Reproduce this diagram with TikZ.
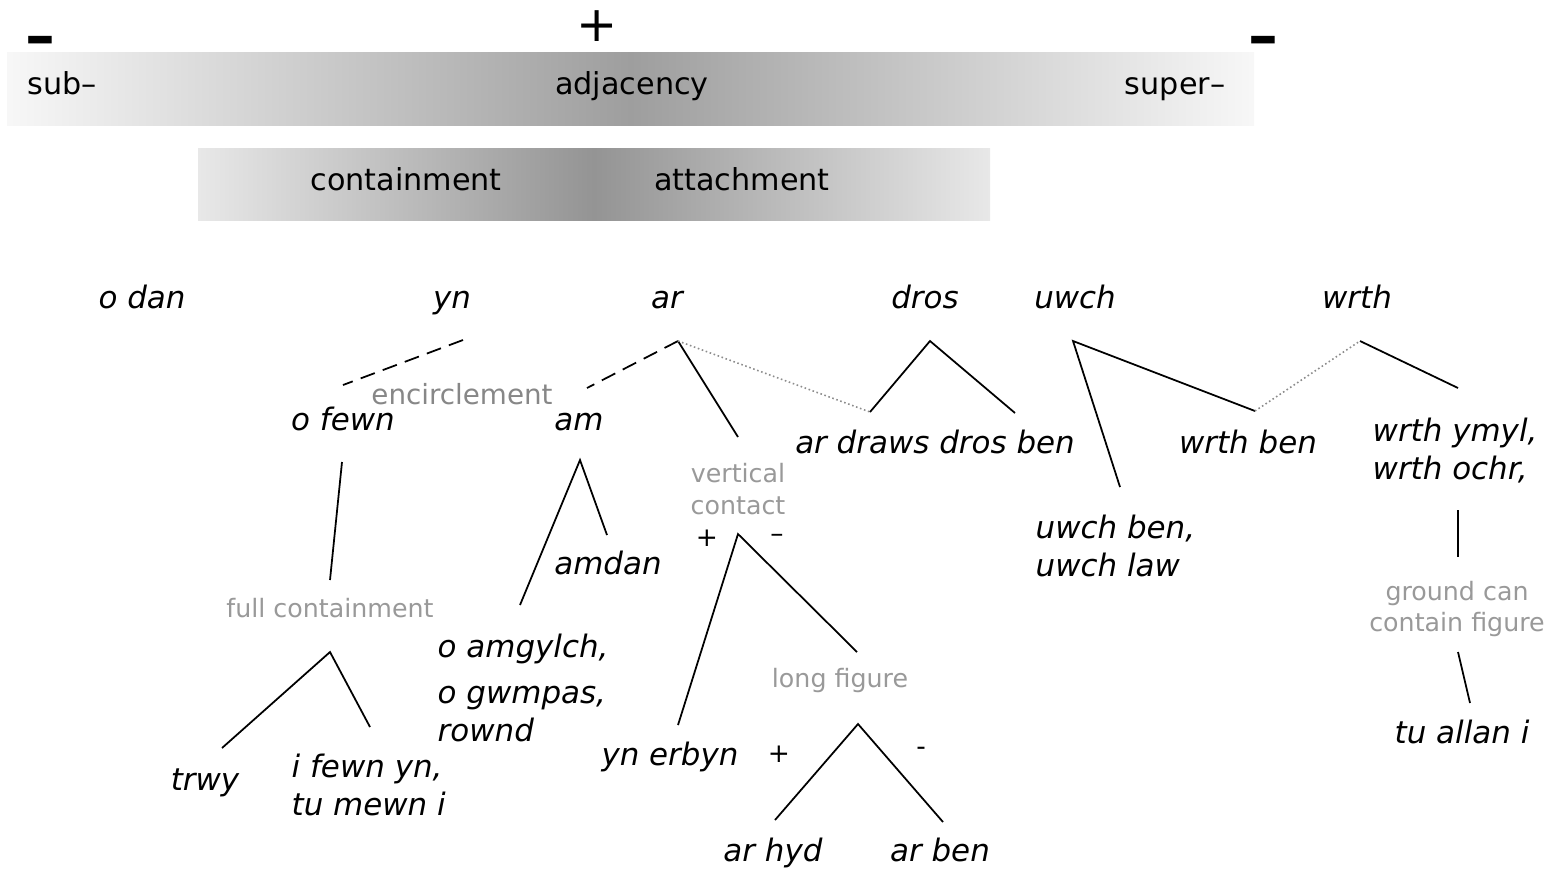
\documentclass[tikz,border=0pt]{standalone}
\usepackage{fontspec}
\setmainfont{DejaVu Sans}
\usepackage{tikz}
\tikzset{welsh/.style={font=\fontsize{8.8}{10.8}\selectfont\itshape, inner sep=0pt, text height=1.45ex, text depth=0.4ex}}
\tikzset{welshpair/.style={font=\fontsize{8.8}{10.8}\selectfont\itshape, inner sep=0pt, align=left}}
\tikzset{gloss/.style={font=\fontsize{7.2}{9}\selectfont, text=black!40, inner sep=0pt, align=center}}
\tikzset{polar/.style={font=\fontsize{7.5}{9}\selectfont, inner sep=0pt}}
\tikzset{scalelabel/.style={font=\fontsize{8.6}{10}\selectfont, inner sep=0pt, text height=1.45ex, text depth=0.4ex}}
\tikzset{branch/.style={line width=0.5pt}}
\tikzset{link/.style={line width=0.5pt, dash pattern=on 4.3pt off 2.4pt}}
\tikzset{hint/.style={line width=0.45pt, black!45, dash pattern=on 0.45pt off 0.75pt}}

\begin{document}
\begin{tikzpicture}[x=0.1mm, y=-0.1mm]
            \useasboundingbox (0,0) rectangle (1555,870);
            % the two scales
            \shade[left color=black!3, right color=black!3, middle color=black!38] (7,52) rectangle (1254,125);
            \shade[left color=black!9, right color=black!9, middle color=black!42] (198,148) rectangle (990,220);
            \node[font=\fontsize{17}{17}\selectfont\bfseries, inner sep=0pt] (minusL) at (40,46) {–};
            \node[font=\fontsize{14}{14}\selectfont, inner sep=0pt] (plus) at (597,26) {+};
            \node[font=\fontsize{17}{17}\selectfont\bfseries, inner sep=0pt] (minusR) at (1263,46) {–};
            \node[scalelabel] (sub) at (62,84) {sub–};
            \node[scalelabel] (adj) at (632,84) {adjacency};
            \node[scalelabel] (super) at (1175,84) {super–};
            \node[scalelabel] (cont) at (406,180) {containment};
            \node[scalelabel] (att) at (742,180) {attachment};

            % prepositions
            \node[welsh] (odan) at (142,298) {o dan};
            \node[welsh] (yn) at (452,298) {yn};
            \node[welsh] (ar) at (667,298) {ar};
            \node[welsh] (dros) at (925,298) {dros};
            \node[welsh] (uwch) at (1075,298) {uwch};
            \node[welsh] (wrth) at (1357,298) {wrth};
            \node[gloss, font=\fontsize{7.9}{9}\selectfont, text=black!47] (encirc) at (462,394) {encirclement};
            \node[welsh] (ofewn) at (343,420) {o fewn};
            \node[welsh] (am) at (579,420) {am};
            \node[gloss] (vc) at (738,489) {vertical\\contact};
            \node[welsh] (ardraws) at (935,443) {ar draws dros ben};
            \node[welsh] (wrthben) at (1248,443) {wrth ben};
            \node[welshpair, anchor=west] (ymyl) at (1372,451) {wrth ymyl,\\wrth ochr,};
            \node[welshpair, anchor=west] (uwchben) at (1035,546) {uwch ben,\\uwch law};
            \node[welsh] (amdan) at (608,564) {amdan};
            \node[gloss] (full) at (330,608) {full containment};
            \node[gloss] (ground) at (1457,609) {ground can\\contain figure};
            \node[welsh, anchor=west] (amgylch) at (437,647) {o amgylch,};
            \node[welshpair, anchor=west] (gwmpas) at (437,714) {o gwmpas,\\rownd};
            \node[gloss] (long) at (840,680) {long figure};
            \node[welsh] (trwy) at (205,780) {trwy};
            \node[welshpair, anchor=west] (ifewn) at (291,785) {i fewn yn,\\tu mewn i};
            \node[welsh] (erbyn) at (670,755) {yn erbyn};
            \node[welsh] (allan) at (1462,733) {tu allan i};
            \node[welsh] (hyd) at (773,851) {ar hyd};
            \node[welsh] (arben) at (940,851) {ar ben};
            \node[polar] (vcplus) at (707,538) {+};
            \node[polar] (vcminus) at (777,538) {–};
            \node[polar] (lfplus) at (779,754) {+};
            \node[polar] (lfminus) at (921,751) {-};

            % branch ends
            \coordinate (yn-foot) at (463,340);
            \coordinate (ofewn-head) at (343,385);
            \coordinate (ar-foot) at (678,341);
            \coordinate (am-head) at (587,388);
            \coordinate (vc-head) at (738,437);
            \coordinate (ardraws-head) at (870,412);
            \coordinate (dros-foot) at (930,341);
            \coordinate (drosben-head) at (1015,413);
            \coordinate (uwch-foot) at (1073,341);
            \coordinate (wrthben-head) at (1255,411);
            \coordinate (uwchben-head) at (1120,487);
            \coordinate (wrth-foot) at (1360,341);
            \coordinate (ymyl-head) at (1458,388);
            \coordinate (ymyl-foot) at (1458,510);
            \coordinate (ground-head) at (1458,557);
            \coordinate (ground-foot) at (1458,652);
            \coordinate (allan-head) at (1470,703);
            \coordinate (ofewn-foot) at (342,462);
            \coordinate (full-head) at (330,580);
            \coordinate (full-foot) at (330,652);
            \coordinate (trwy-head) at (222,748);
            \coordinate (ifewn-head) at (370,727);
            \coordinate (am-foot) at (580,460);
            \coordinate (amdan-head) at (607,535);
            \coordinate (amgylch-head) at (520,605);
            \coordinate (vc-foot) at (738,534);
            \coordinate (erbyn-head) at (678,725);
            \coordinate (long-head) at (857,652);
            \coordinate (long-foot) at (858,724);
            \coordinate (hyd-head) at (775,820);
            \coordinate (arben-head) at (943,822);

            \draw[link] (yn-foot) -- (ofewn-head);
            \draw[link] (ar-foot) -- (am-head);
            \draw[branch] (ar-foot) -- (vc-head);
            \draw[hint] (ar-foot) -- (ardraws-head);
            \draw[branch] (ardraws-head) -- (dros-foot) -- (drosben-head);
            \draw[branch] (wrthben-head) -- (uwch-foot) -- (uwchben-head);
            \draw[hint] (wrthben-head) -- (wrth-foot);
            \draw[branch] (wrth-foot) -- (ymyl-head);
            \draw[branch] (ymyl-foot) -- (ground-head);
            \draw[branch] (ground-foot) -- (allan-head);
            \draw[branch] (ofewn-foot) -- (full-head);
            \draw[branch] (trwy-head) -- (full-foot) -- (ifewn-head);
            \draw[branch] (amgylch-head) -- (am-foot) -- (amdan-head);
            \draw[branch] (erbyn-head) -- (vc-foot) -- (long-head);
            \draw[branch] (hyd-head) -- (long-foot) -- (arben-head);
        \end{tikzpicture}
\end{document}
